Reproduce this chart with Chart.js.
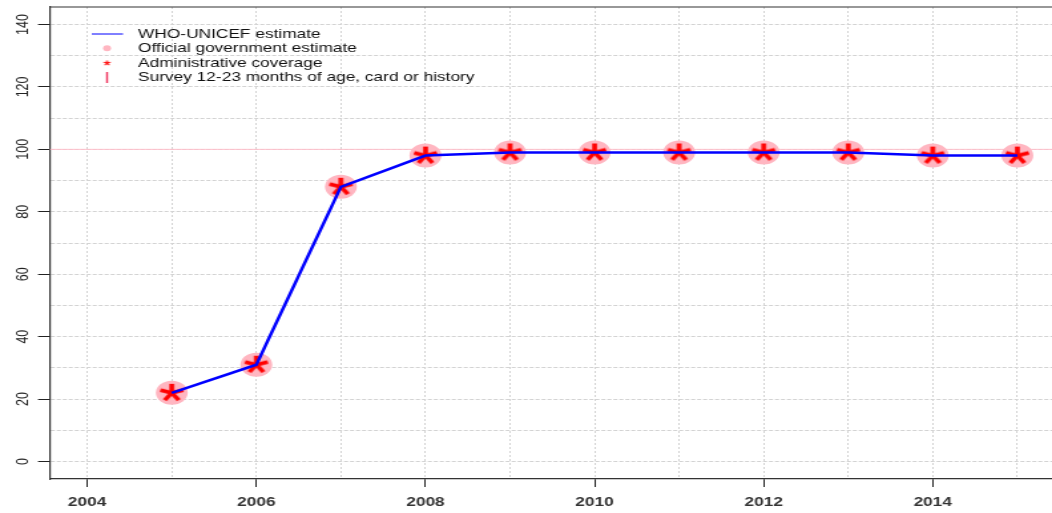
<!DOCTYPE html>
<html>
<head>
<meta charset="utf-8">
<script src="https://cdn.jsdelivr.net/npm/chart.js@4"></script>
<style>
html,body{margin:0;padding:0;background:#fff;overflow:hidden;}
#wrap{position:absolute;left:0;top:0;width:791px;height:513px;transform:scaleX(1.33);transform-origin:0 0;}
#c{display:block;}
</style>
</head>
<body>
<div id="wrap"><canvas id="c" width="791" height="513"></canvas></div>
<script>
// ---- data ----
const years = [2005, 2006, 2007, 2008, 2009, 2010, 2011, 2012, 2013, 2014, 2015];
const whoUnicef = [22, 31, 88, 98, 99, 99, 99, 99, 99, 98, 98];
const officialEstimate = [22, 31, 88, 98, 99, 99, 99, 99, 99, 98, 98];
const adminCoverage = [22, 31, 88, 98, 99, 99, 99, 99, 99, 98, 98];
const surveyCoverage = [];
const xTickLabels = ['2004', '2006', '2008', '2010', '2012', '2014'];
const yTickLabels = ['0', '20', '40', '60', '80', '100', '120', '140'];
const legendLabels = ['WHO-UNICEF estimate', 'Official government estimate', 'Administrative coverage', 'Survey 12-23 months of age, card or history'];
const TARGET = 100;
const X_MIN = 2003.56, X_MAX = 2015.41;
const Y_MIN = -5.6, Y_MAX = 145.6;

Chart.defaults.font.family = "'Liberation Sans', Arial, sans-serif";

function makeAsterisk(L, lw, color) {
  const size = Math.ceil(2 * L + lw * 2 + 2);
  const cv = document.createElement('canvas');
  cv.width = size; cv.height = size;
  const g = cv.getContext('2d');
  const c = size / 2;
  g.strokeStyle = color; g.lineWidth = lw; g.lineCap = 'butt';
  [-90, -18, -162, 54, 126].forEach(a => {
    const r = a * Math.PI / 180;
    g.beginPath(); g.moveTo(c, c); g.lineTo(c + L * Math.cos(r), c + L * Math.sin(r)); g.stroke();
  });
  return cv;
}
const bigStar = makeAsterisk(9, 3.6, '#ff0000');
const smallStar = makeAsterisk(2.6, 1.2, '#ff0000');

const toPts = arr => arr.map((v, i) => ({x: years[i], y: v}));

const extras = {
  id: 'extras',
  beforeDatasetsDraw(chart) {
    const {ctx, chartArea: a, scales: {y}} = chart;
    const py = y.getPixelForValue(TARGET);
    ctx.save();
    ctx.strokeStyle = '#ffc0cb'; ctx.lineWidth = 1;
    ctx.beginPath(); ctx.moveTo(a.left, py); ctx.lineTo(a.right, py); ctx.stroke();
    ctx.strokeStyle = '#333'; ctx.lineWidth = 1.2;
    ctx.beginPath(); ctx.moveTo(a.left, a.top); ctx.lineTo(a.right, a.top); ctx.stroke();
    ctx.restore();
  },
  afterDraw(chart) {
    const {ctx} = chart;
    const rows = [34, 48.3, 63, 77.5];
    const mx = 80.5;
    ctx.save();
    ctx.strokeStyle = '#0000ff'; ctx.lineWidth = 1;
    ctx.beginPath(); ctx.moveTo(69, rows[0]); ctx.lineTo(92.5, rows[0]); ctx.stroke();
    ctx.fillStyle = '#ffb6c1';
    ctx.beginPath(); ctx.arc(mx, rows[1], 3, 0, Math.PI * 2); ctx.fill();
    ctx.drawImage(smallStar, mx - smallStar.width / 2, rows[2] - smallStar.height / 2);
    ctx.strokeStyle = '#f03c64'; ctx.lineWidth = 1.5;
    ctx.beginPath(); ctx.moveTo(mx, rows[3] - 5.5); ctx.lineTo(mx, rows[3] + 5.5); ctx.stroke();
    ctx.fillStyle = '#111';
    ctx.font = "13px 'Liberation Sans', Arial, sans-serif";
    ctx.textBaseline = 'middle'; ctx.textAlign = 'left';
    legendLabels.forEach((t, i) => ctx.fillText(t, 103.8, rows[i]));
    ctx.restore();
  }
};

new Chart(document.getElementById('c'), {
  type: 'scatter',
  data: {
    datasets: [
      {label: legendLabels[0], data: toPts(whoUnicef), showLine: true, borderColor: '#0000ff', borderWidth: 2.5, pointRadius: 0, tension: 0, order: 0},
      {label: legendLabels[2], data: toPts(adminCoverage), pointStyle: bigStar, pointRadius: 10, order: 1},
      {label: legendLabels[1], data: toPts(officialEstimate), pointStyle: 'circle', pointRadius: 12, backgroundColor: '#ffb6c1', borderWidth: 0, order: 2},
      {label: legendLabels[3], data: toPts(surveyCoverage), pointStyle: 'line', rotation: 90, borderColor: '#f03c64', order: 3}
    ]
  },
  options: {
    animation: false,
    responsive: false,
    devicePixelRatio: 1,
    layout: {autoPadding: false, padding: {top: 7, left: 0, right: 0, bottom: 0}},
    plugins: {legend: {display: false}, tooltip: {enabled: false}},
    scales: {
      x: {
        type: 'linear', min: X_MIN, max: X_MAX,
        afterFit: s => { s.height = 34; s.paddingLeft = 0; s.paddingRight = 0; s.paddingTop = 0; s.paddingBottom = 0; },
        ticks: {
          stepSize: 1, includeBounds: false, autoSkip: false, maxRotation: 0, minRotation: 0,
          padding: 8, color: '#333', font: {size: 13, weight: 'bold'},
          callback: v => xTickLabels.includes(String(v)) ? String(v) : ''
        },
        grid: {
          color: '#d3d3d3', lineWidth: 1, tickLength: 8, tickBorderDash: [],
          tickColor: c => (c.tick && xTickLabels.includes(String(c.tick.value))) ? '#222' : 'rgba(0,0,0,0)'
        },
        border: {display: true, color: '#333', width: 1.2, dash: [2, 2]}
      },
      y: {
        min: Y_MIN, max: Y_MAX,
        afterFit: s => { s.width = 37.6; s.paddingLeft = 0; s.paddingRight = 0; s.paddingTop = 0; s.paddingBottom = 0; },
        ticks: {
          stepSize: 10, includeBounds: false, autoSkip: false,
          minRotation: 90, maxRotation: 90, crossAlign: 'center',
          padding: 1, color: '#222', font: {size: 12.5},
          callback: v => yTickLabels.includes(String(v)) ? String(v) : ''
        },
        grid: {
          color: '#d3d3d3', lineWidth: 1, tickLength: 9, tickBorderDash: [],
          tickColor: c => (c.tick && yTickLabels.includes(String(c.tick.value))) ? '#222' : 'rgba(0,0,0,0)'
        },
        border: {display: true, color: '#333', width: 1.2, dash: [3, 1.5]}
      }
    }
  },
  plugins: [extras]
});
</script>
</body>
</html>
